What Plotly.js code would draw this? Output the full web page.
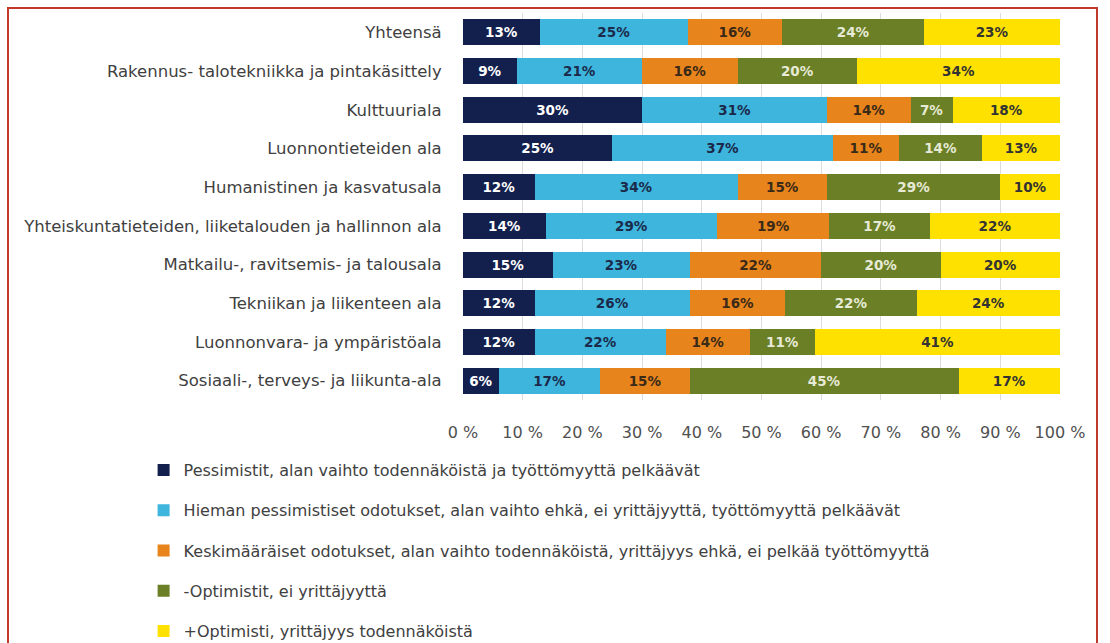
<!DOCTYPE html>
<html>
<head>
<meta charset="utf-8">
<script src="https://cdn.plot.ly/plotly-3.0.1.min.js"></script>
<style>
html,body{margin:0;padding:0;background:#fff;}
#frame{position:absolute;left:7px;top:7px;width:1091px;height:650px;border:2px solid #c0392b;box-sizing:border-box;}
#chart{position:absolute;left:0;top:0;width:1110px;height:643px;}
</style>
</head>
<body>
<div id="chart"></div>
<div id="frame"></div>
<script>
var categories = [
  "Yhteensä",
  "Rakennus- talotekniikka ja pintakäsittely",
  "Kulttuuriala",
  "Luonnontieteiden ala",
  "Humanistinen ja kasvatusala",
  "Yhteiskuntatieteiden, liiketalouden ja hallinnon ala",
  "Matkailu-, ravitsemis- ja talousala",
  "Tekniikan ja liikenteen ala",
  "Luonnonvara- ja ympäristöala",
  "Sosiaali-, terveys- ja liikunta-ala"
];
var seriesNames = [
  "Pessimistit, alan vaihto todennäköistä ja työttömyyttä pelkäävät",
  "Hieman pessimistiset odotukset, alan vaihto ehkä, ei yrittäjyyttä, työttömyyttä pelkäävät",
  "Keskimääräiset odotukset, alan vaihto todennäköistä, yrittäjyys ehkä, ei pelkää työttömyyttä",
  "-Optimistit, ei yrittäjyyttä",
  "+Optimisti, yrittäjyys todennäköistä"
];
var pessimistit = [13, 9, 30, 25, 12, 14, 15, 12, 12, 6];
var hiemanPessimistiset = [25, 21, 31, 37, 34, 29, 23, 26, 22, 17];
var keskimaaraiset = [16, 16, 14, 11, 15, 19, 22, 16, 14, 15];
var optimistitMinus = [24, 20, 7, 14, 29, 17, 20, 22, 11, 45];
var optimistitPlus = [23, 34, 18, 13, 10, 22, 20, 24, 41, 17];
var tickValues = [0, 10, 20, 30, 40, 50, 60, 70, 80, 90, 100];
var tickLabels = ["0 %", "10 %", "20 %", "30 %", "40 %", "50 %", "60 %", "70 %", "80 %", "90 %", "100 %"];

var allSeries = [pessimistit, hiemanPessimistiset, keskimaaraiset, optimistitMinus, optimistitPlus];
var colors = ["#13204d", "#3db5dc", "#e8841c", "#6b7f26", "#ffe100"];
var textColors = ["#ffffff", "#1b2a4a", "#3a2a18", "#e6ead6", "#333333"];

var traces = allSeries.map(function (vals, i) {
  return {
    type: "bar",
    orientation: "h",
    name: seriesNames[i],
    legendgroup: "g" + i,
    y: categories,
    x: vals,
    text: vals.map(function (v) { return v + "%"; }),
    textposition: "inside",
    insidetextanchor: "middle",
    textangle: 0,
    constraintext: "none",
    textfont: {family: "DejaVu Sans, sans-serif", size: 13.5, color: textColors[i], weight: "bold"},
    marker: {color: colors[i], line: {width: 0}},
    hoverinfo: "none"
  };
});

var layout = {
  width: 1110,
  height: 643,
  barmode: "stack",
  barnorm: "percent",
  bargap: 0.33,
  paper_bgcolor: "#ffffff",
  plot_bgcolor: "#ffffff",
  margin: {l: 463, r: 50, t: 13, b: 243, autoexpand: false},
  font: {family: "DejaVu Sans, sans-serif", color: "#404040"},
  xaxis: {
    range: [0, 100],
    tickvals: tickValues,
    ticktext: tickLabels,
    showgrid: true,
    gridcolor: "#dcdcdc",
    gridwidth: 1,
    zeroline: false,
    showline: false,
    ticks: "outside",
    ticklen: 18,
    tickcolor: "rgba(0,0,0,0)",
    tickfont: {size: 16, color: "#505050"},
    fixedrange: true
  },
  yaxis: {
    autorange: "reversed",
    showgrid: false,
    zeroline: false,
    showline: false,
    ticks: "outside",
    ticklen: 17,
    tickcolor: "rgba(0,0,0,0)",
    tickfont: {size: 16.5, color: "#404040"},
    fixedrange: true
  },
  showlegend: true,
  legend: {
    orientation: "v",
    x: -0.535,
    xanchor: "left",
    y: -0.137,
    yanchor: "top",
    traceorder: "grouped",
    tracegroupgap: 16.5,
    font: {size: 16, color: "#404040"},
    bgcolor: "rgba(0,0,0,0)"
  }
};

Plotly.newPlot("chart", traces, layout, {displayModeBar: false, staticPlot: true});
</script>
</body>
</html>
